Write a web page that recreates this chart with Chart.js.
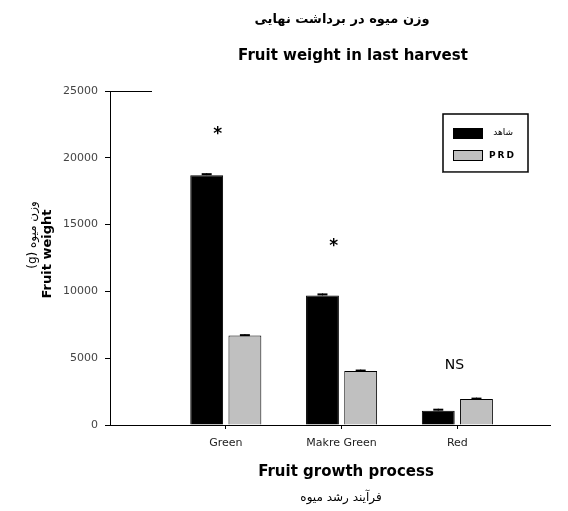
<!DOCTYPE html>
<html>
<head>
<meta charset="utf-8">
<script src="https://cdn.jsdelivr.net/npm/chart.js@4"></script>
<style>
  html, body { margin: 0; padding: 0; background: #fff; }
  #wrap { width: 568px; height: 511px; }
</style>
</head>
<body>
<div id="wrap"><canvas id="c" width="568" height="511"></canvas></div>
<script>
// Fruit weight (g) at the last harvest, control vs PRD irrigation
const categories = ['Green', 'Makre Green', 'Red'];
const seriesNames = ['شاهد', 'PRD'];
const controlWeight = [18700, 9700, 1070];
const prdWeight = [6700, 4050, 1950];
const controlErr = [150, 150, 150];
const prdErr = [100, 100, 100];
const significance = ['*', '*', 'NS'];
const significanceAt = [22000, 13600, 4500];
const yTicks = [0, 5000, 10000, 15000, 20000, 25000];

const titleFa = 'وزن میوه در برداشت نهایی';
const titleEn = 'Fruit weight in last harvest';
const xTitleEn = 'Fruit growth process';
const xTitleFa = 'فرآیند رشد میوه';
const yTitleEn = 'Fruit weight';
const yTitleFa = 'وزن میوه (g)';

const seriesColors = ['#000000', '#c0c0c0'];
const errors = [controlErr, prdErr];

const toPoints = arr => arr.map((v, i) => ({ x: i + 1, y: v }));

// Error caps, significance marks, legend and the text around the plot
const decorations = {
  id: 'decorations',
  afterDatasetsDraw(chart) {
    const ctx = chart.ctx;
    const y = chart.scales.y;
    ctx.save();
    chart.data.datasets.forEach((ds, di) => {
      const meta = chart.getDatasetMeta(di);
      meta.data.forEach((el, i) => {
        const v = ds.data[i].y;
        const top = y.getPixelForValue(v + errors[di][i]);
        const base = y.getPixelForValue(v);
        ctx.strokeStyle = '#000';
        ctx.lineWidth = 1;
        ctx.beginPath();
        ctx.moveTo(el.x, base);
        ctx.lineTo(el.x, top);
        ctx.stroke();
        ctx.lineWidth = 2;
        ctx.beginPath();
        ctx.moveTo(el.x - 5, top + 1);
        ctx.lineTo(el.x + 5, top + 1);
        ctx.stroke();
      });
    });
    ctx.restore();
  },
  afterDraw(chart) {
    const ctx = chart.ctx;
    const area = chart.chartArea;
    const xs = chart.scales.x;
    const ys = chart.scales.y;
    ctx.save();

    // short top frame stub next to the y axis
    ctx.strokeStyle = '#000';
    ctx.lineWidth = 1;
    ctx.beginPath();
    ctx.moveTo(area.left - 5, Math.round(area.top) + 0.5);
    ctx.lineTo(area.left + 42, Math.round(area.top) + 0.5);
    ctx.stroke();

    ctx.fillStyle = '#000';
    ctx.textAlign = 'center';
    ctx.textBaseline = 'middle';

    // titles
    ctx.font = 'bold 13px "DejaVu Sans"';
    ctx.direction = 'rtl';
    ctx.fillText(titleFa, 342, 20);
    ctx.direction = 'ltr';
    ctx.font = 'bold 15px "DejaVu Sans"';
    ctx.fillText(titleEn, 353, 56);

    // x axis titles
    ctx.font = 'bold 15px "DejaVu Sans"';
    ctx.fillText(xTitleEn, 346, 472);
    ctx.font = '12px "DejaVu Sans"';
    ctx.direction = 'rtl';
    ctx.fillText(xTitleFa, 341, 498);
    ctx.direction = 'ltr';

    // y axis titles
    ctx.save();
    ctx.translate(48, 254);
    ctx.rotate(-Math.PI / 2);
    ctx.font = 'bold 13px "DejaVu Sans"';
    ctx.fillText(yTitleEn, 0, 0);
    ctx.restore();
    ctx.save();
    ctx.translate(33, 235);
    ctx.rotate(-Math.PI / 2);
    ctx.font = '12px "DejaVu Sans"';
    ctx.direction = 'rtl';
    ctx.fillText(yTitleFa, 0, 0);
    ctx.restore();

    // significance marks
    significance.forEach((s, i) => {
      const px = xs.getPixelForValue(i + 1) - 8;
      const py = ys.getPixelForValue(significanceAt[i]);
      ctx.font = s === '*' ? 'bold 17px "DejaVu Sans"' : '14px "DejaVu Sans"';
      ctx.fillText(s, px + (s === '*' ? 0 : 5), py + (s === '*' ? 3 : 0));
    });

    // legend
    const bx = area.right - 107, by = area.top + 23, bw = 85, bh = 58;
    ctx.fillStyle = '#fff';
    ctx.fillRect(bx, by, bw, bh);
    ctx.strokeStyle = '#000';
    ctx.lineWidth = 1.5;
    ctx.strokeRect(bx, by, bw, bh);
    ctx.fillStyle = '#555';
    ctx.fillRect(bx - 1, by + bh, bw + 1, 1);
    seriesNames.forEach((name, i) => {
      const sy = by + 14 + i * 22;
      ctx.fillStyle = seriesColors[i];
      ctx.fillRect(bx + 10, sy, 30, 11);
      ctx.strokeStyle = '#000';
      ctx.lineWidth = 1;
      ctx.strokeRect(bx + 10.5, sy + 0.5, 29, 10);
      ctx.fillStyle = '#000';
      ctx.textAlign = 'left';
      if (i === 0) {
        ctx.font = '9px "DejaVu Sans"';
        ctx.direction = 'rtl';
        ctx.textAlign = 'right';
        ctx.fillText(name, bx + 70, sy + 5);
        ctx.direction = 'ltr';
      } else {
        ctx.font = 'bold 9px "DejaVu Sans"';
        ctx.letterSpacing = '2px';
        ctx.fillText(name, bx + 46, sy + 6);
        ctx.letterSpacing = '0px';
      }
    });
    ctx.restore();
  }
};

new Chart(document.getElementById('c'), {
  type: 'bar',
  data: {
    datasets: [
      {
        label: seriesNames[0],
        data: toPoints(controlWeight),
        backgroundColor: seriesColors[0],
        borderColor: '#000',
        borderWidth: 1
      },
      {
        label: seriesNames[1],
        data: toPoints(prdWeight),
        backgroundColor: seriesColors[1],
        borderColor: '#000',
        borderWidth: 1
      }
    ]
  },
  options: {
    responsive: false,
    animation: false,
    devicePixelRatio: 1,
    layout: { padding: { top: 91, right: 18, left: 0, bottom: 0 } },
    datasets: { bar: { categoryPercentage: 0.66, barPercentage: 0.86 } },
    plugins: {
      legend: { display: false },
      title: { display: false },
      tooltip: { enabled: false }
    },
    scales: {
      x: {
        type: 'linear',
        min: 0,
        max: 3.8,
        offset: false,
        grid: { display: true, drawOnChartArea: false, drawTicks: true, tickLength: 4, color: '#000', offset: false },
        border: { display: true, color: '#000', width: 1 },
        afterBuildTicks: s => { s.ticks = categories.map((_, i) => ({ value: i + 1 })); },
        ticks: {
          autoSkip: false,
          maxRotation: 0,
          padding: 8,
          color: '#222',
          font: { family: 'DejaVu Sans', size: 11 },
          callback: v => categories[Math.round(v) - 1]
        },
        afterFit: s => { s.height = 86; }
      },
      y: {
        min: 0,
        max: 25000,
        grid: { display: true, drawOnChartArea: false, drawTicks: true, tickLength: 5, color: '#000' },
        border: { display: true, color: '#000', width: 1 },
        afterBuildTicks: s => { s.ticks = yTicks.map(v => ({ value: v })); },
        ticks: {
          padding: 7,
          color: '#444',
          font: { family: 'DejaVu Sans', size: 11 },
          callback: v => String(v)
        },
        afterFit: s => { s.width = 110; }
      }
    }
  },
  plugins: [decorations]
});
</script>
</body>
</html>
